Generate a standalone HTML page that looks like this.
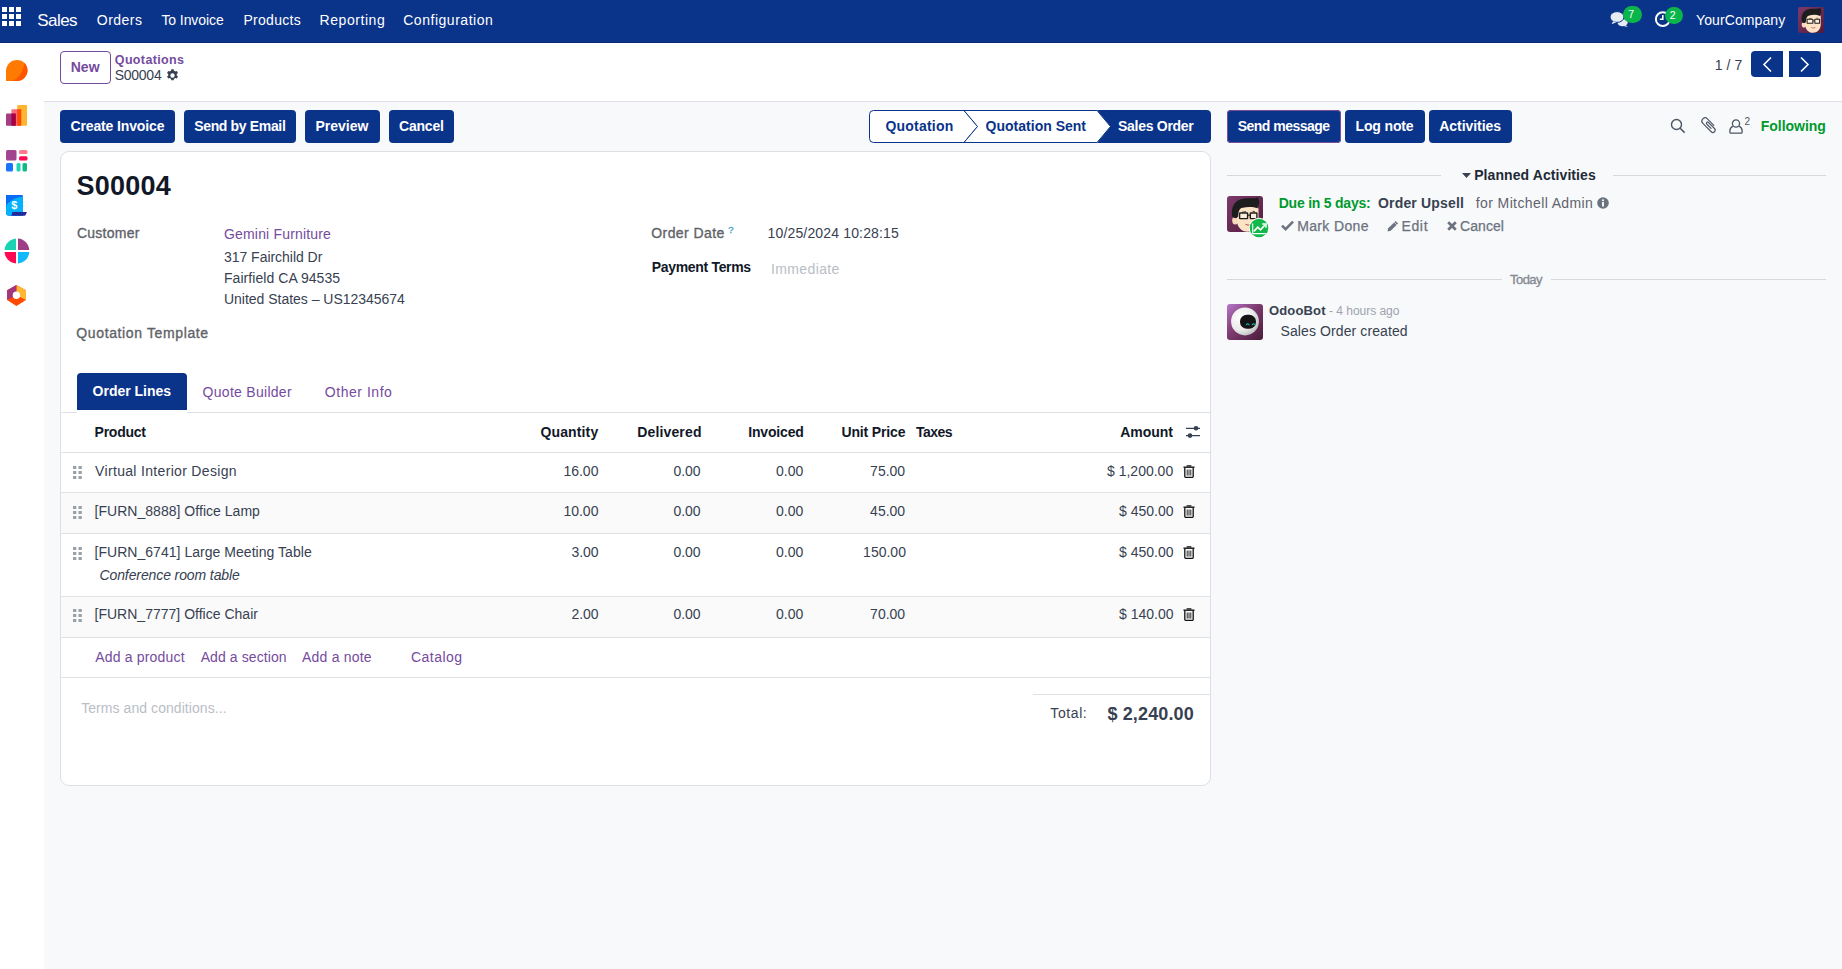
<!DOCTYPE html>
<html><head><meta charset="utf-8"><title>S00004</title>
<style>
*{box-sizing:border-box;margin:0;padding:0}
html,body{width:1842px;height:969px;overflow:hidden;background:#f8f9fa;font-family:"Liberation Sans",sans-serif}
.b{position:absolute}
.t{position:absolute;white-space:nowrap;line-height:1}
svg{overflow:visible}
</style></head><body>
<div class="b" style="left:0px;top:0px;width:1842px;height:43px;background:#0a338a"></div>
<div class="b" style="left:0px;top:42px;width:1842px;height:1px;background:#062a74"></div>
<div class="b" style="left:0px;top:43px;width:44px;height:926px;background:#fff"></div>
<div class="b" style="left:44px;top:43px;width:1798px;height:58px;background:#fff"></div>
<div class="b" style="left:44px;top:101px;width:1798px;height:1px;background:#dfe1e5"></div>
<svg class="b" style="left:2px;top:7px" width="19" height="19" viewBox="0 0 19 19" fill="#fff">
<rect x="0" y="0" width="5" height="5"/><rect x="7" y="0" width="5" height="5"/><rect x="14" y="0" width="5" height="5"/>
<rect x="0" y="7" width="5" height="5"/><rect x="7" y="7" width="5" height="5"/><rect x="14" y="7" width="5" height="5"/>
<rect x="0" y="14" width="5" height="5"/><rect x="7" y="14" width="5" height="5"/><rect x="14" y="14" width="5" height="5"/></svg>
<svg class="b" style="left:1609px;top:10px" width="20" height="18" viewBox="0 0 20 18">
<ellipse cx="13.6" cy="12.6" rx="5.1" ry="3.7" fill="#e6eaf3"/><path d="M16.5 15L18.8 17 15.2 16.2z" fill="#e6eaf3"/>
<ellipse cx="8" cy="7" rx="7" ry="5.4" fill="#e6eaf3" stroke="#0a338a" stroke-width="1"/>
<path d="M4 11.2L2.6 14.2 7.3 12.2z" fill="#e6eaf3"/></svg>
<div class="b" style="left:1623px;top:6px;width:18.5px;height:17px;border-radius:9px;background:#0ab54b"></div>
<svg class="b" style="left:1654px;top:10px" width="18" height="18" viewBox="0 0 18 18">
<circle cx="8.8" cy="9.2" r="6.9" fill="none" stroke="#fff" stroke-width="2"/>
<path d="M8.8 5v4.3h-3" fill="none" stroke="#fff" stroke-width="1.6"/></svg>
<div class="b" style="left:1665px;top:7px;width:17.5px;height:16.5px;border-radius:9px;background:#0ab54b"></div>
<svg class="b" style="left:1798px;top:7px" width="26" height="26" viewBox="0 0 36 36"><defs><linearGradient id="avg1" x1="0" y1="0" x2="1" y2="1"><stop offset="0" stop-color="#7c3b6a"/><stop offset="1" stop-color="#521a3d"/></linearGradient></defs>
<rect width="36" height="36" rx="3" fill="url(#avg1)"/>
<ellipse cx="8.2" cy="24.5" rx="3" ry="3.9" fill="#fbd9b8"/>
<path d="M10 12C10 8 31 8 31.5 13L31.5 24C31.5 31 26.5 35.8 20.5 35.8C14.5 35.8 10.6 31 10 26Z" fill="#fde3c6"/>
<path d="M5.2 20.5C3.5 10 8.5 3 18 2.4C24.5 2 28.5 3 31 1.2L32 4.5C32.5 7.5 31.5 10 30.2 12.3C26 10.3 20 10.6 14.5 12C12.2 13 11.2 16 11.2 20.5L9.2 22.3C7.2 22 5.8 21.7 5.2 20.5Z" fill="#1d1d1d"/>
<path d="M15 16.3L19 15.6M25.5 15.3L28 15.7" stroke="#333" stroke-width="0.9"/>
<rect x="12.6" y="17" width="8" height="5.6" rx="0.6" fill="#fff" fill-opacity="0.35" stroke="#1e1e1e" stroke-width="1.4"/>
<rect x="23.3" y="17" width="6.6" height="5.6" rx="0.6" fill="#fff" fill-opacity="0.35" stroke="#1e1e1e" stroke-width="1.4"/>
<path d="M20.6 19.2H23.3" stroke="#1e1e1e" stroke-width="1.1"/>
<path d="M18.5 28.3Q21 30.2 24 28.2" stroke="#b24a4a" stroke-width="1" fill="none"/></svg>
<svg class="b" style="left:5px;top:59px" width="23" height="23" viewBox="0 0 23 23">
<path d="M1 12C1 5.9 5.9 1 12 1s10.5 4.9 10.5 10.5S17.6 22 12 22H1z" fill="#ff7a00"/>
<path d="M19.3 3.7C21.3 5.6 22.5 8.4 22.5 11.5 22.5 17.3 17.6 22 12 22H6.5C13 20.5 18.5 13 19.3 3.7z" fill="#ff5500"/></svg>
<svg class="b" style="left:6px;top:105px" width="22" height="21" viewBox="0 0 22 21">
<rect x="11.2" y="0" width="9.8" height="20.7" rx="1" fill="#ffb52e"/>
<rect x="5.4" y="4.3" width="9.8" height="16.4" rx="1" fill="#ff6b80"/>
<rect x="11.2" y="4.3" width="4" height="16.4" fill="#ff4a00"/>
<rect x="0" y="8.6" width="9.8" height="12.1" rx="1" fill="#a23d86"/>
<rect x="5.4" y="8.6" width="4.4" height="12.1" fill="#a6003e"/></svg>
<svg class="b" style="left:6px;top:150px" width="22" height="22" viewBox="0 0 22 22">
<rect x="0" y="0" width="10.5" height="10.5" rx="1.5" fill="#a2458e"/>
<rect x="13" y="0" width="8.5" height="4" rx="1.5" fill="#ff7a8a"/>
<rect x="13" y="6.3" width="8.5" height="4.2" rx="1.5" fill="#ff0a50"/>
<rect x="0" y="13" width="7" height="8.5" rx="1.5" fill="#1a74ff"/>
<rect x="10.5" y="13" width="4" height="8.5" rx="1.5" fill="#1fd5b5"/>
<rect x="16.5" y="13" width="4.5" height="8.5" rx="1.5" fill="#12b886"/></svg>
<svg class="b" style="left:6px;top:195px" width="21" height="21" viewBox="0 0 21 21">
<path d="M0 0H16.3L17 0.7V20.7H3.2Q0 20.7 0 17.5Z" fill="#0a6cf5"/>
<path d="M0 11C3 6 9 2.5 17 1.6V20.7H3.2Q0 20.7 0 17.5Z" fill="#03b2fd"/>
<path d="M6.3 17.1H20.9L19.6 20Q19.3 20.7 18.5 20.7H5.2Q6.3 19.2 6.3 17.1Z" fill="#26289b"/>
<text x="8.4" y="13.9" font-family="Liberation Sans" font-weight="bold" font-size="11" fill="#fff" text-anchor="middle">$</text></svg>
<svg class="b" style="left:3.5px;top:238px" width="26" height="26" viewBox="0 0 26 26">
<path d="M12 12H0.5C0.9 6 5.7 1.2 12 0.6z" fill="#1bd3b3"/>
<path d="M14 12V0.6C20 1 24.8 5.8 25.3 12z" fill="#9e3d87"/>
<path d="M12 14V25.4C5.9 25 1 20.2 0.5 14z" fill="#ff0a50"/>
<path d="M14 14H25.3C24.9 20.1 20.1 25 14 25.4z" fill="#10b9f7"/></svg>
<svg class="b" style="left:6px;top:284px" width="21" height="23" viewBox="0 0 21 23">
<path d="M10.4 1L20 6.2V16.1L10.4 21.9 1.1 16.1V6.2z" fill="#ff4a00"/>
<path d="M10.4 1L20 6.2V16.1L10.4 11.3z" fill="#ffb734"/>
<path d="M10.4 1L1.1 6.2V16.1L10.4 11.3z" fill="#a2367f"/>
<circle cx="10.4" cy="11.3" r="3.7" fill="#fff"/></svg>
<div class="b" style="left:60px;top:51px;width:51px;height:33px;border:1px solid #754b9e;border-radius:4px;background:#fff"></div>
<svg class="b" style="left:165.5px;top:68.5px" width="13" height="13" viewBox="0 0 16 16">
<path fill="#374151" d="M9.4 0.3l0.4 2a6 6 0 0 1 1.6 0.9l1.9-0.7 1.4 2.4-1.5 1.3a6 6 0 0 1 0 1.8l1.5 1.3-1.4 2.4-1.9-0.7a6 6 0 0 1-1.6 0.9l-0.4 2H6.6l-0.4-2a6 6 0 0 1-1.6-0.9l-1.9 0.7-1.4-2.4 1.5-1.3a6 6 0 0 1 0-1.8L1.3 4.9l1.4-2.4 1.9 0.7a6 6 0 0 1 1.6-0.9l0.4-2zM8 5.3A2.7 2.7 0 1 0 8 10.7 2.7 2.7 0 1 0 8 5.3z"/></svg>
<div class="b" style="left:1751px;top:51px;width:32px;height:26px;background:#0a338a;border-radius:4px 0 0 4px"></div>
<div class="b" style="left:1789px;top:51px;width:32px;height:26px;background:#0a338a;border-radius:0 4px 4px 0"></div>
<svg class="b" style="left:1751px;top:51px" width="70" height="26" viewBox="0 0 70 26">
<path d="M20 6.5L13 13.5 20 20.5" fill="none" stroke="#fff" stroke-width="1.6"/>
<path d="M50 6.5L57 13.5 50 20.5" fill="none" stroke="#fff" stroke-width="1.6"/></svg>
<div class="b" style="left:60px;top:110px;width:115px;height:33px;background:#0a338a;border-radius:4px"></div>
<div class="b" style="left:184px;top:110px;width:112px;height:33px;background:#0a338a;border-radius:4px"></div>
<div class="b" style="left:305px;top:110px;width:75px;height:33px;background:#0a338a;border-radius:4px"></div>
<div class="b" style="left:389px;top:110px;width:65px;height:33px;background:#0a338a;border-radius:4px"></div>
<svg class="b" style="left:869px;top:110px" width="342" height="33" viewBox="0 0 342 33">
<path d="M4.5 0.5H95L108.5 16.5 95 32.5H4.5Q0.5 32.5 0.5 28.5V4.5Q0.5 0.5 4.5 0.5z" fill="#fff" stroke="#0a338a" stroke-width="1"/>
<path d="M95 0.5H228L241.5 16.5 228 32.5H95L108.5 16.5z" fill="#fff" stroke="#0a338a" stroke-width="1"/>
<path d="M228 0H337.5Q342 0 342 4.5V28.5Q342 33 337.5 33H228L241.5 16.5z" fill="#0a338a"/>
</svg>
<div class="b" style="left:60px;top:151px;width:1151px;height:635px;background:#fff;border:1px solid #dcdfe3;border-radius:9px"></div>
<div class="b" style="left:61px;top:412px;width:16px;height:1px;background:#dee2e6"></div>
<div class="b" style="left:187px;top:412px;width:1023px;height:1px;background:#dee2e6"></div>
<div class="b" style="left:77px;top:373px;width:110px;height:37px;background:#0a338a;border-radius:4px 4px 0 0"></div>
<svg class="b" style="left:1185px;top:425px" width="16" height="14" viewBox="0 0 16 14">
<path d="M1 3.3H15M1 10.6H15" stroke="#374151" stroke-width="1.3"/>
<circle cx="11" cy="3.3" r="2.3" fill="#374151"/><circle cx="5" cy="10.6" r="2.3" fill="#374151"/></svg>
<div class="b" style="left:61px;top:452px;width:1149px;height:1px;background:#dee2e6"></div>
<div class="b" style="left:61px;top:492px;width:1149px;height:1px;background:#dee2e6"></div>
<svg class="b" style="left:73px;top:466px" width="9" height="13" viewBox="0 0 9 13" fill="#9aa0a8"><rect x="0" y="0" width="3.3" height="3"/><rect x="5.5" y="0" width="3.3" height="3"/><rect x="0" y="5" width="3.3" height="3"/><rect x="5.5" y="5" width="3.3" height="3"/><rect x="0" y="10" width="3.3" height="3"/><rect x="5.5" y="10" width="3.3" height="3"/></svg>
<svg class="b" style="left:1182.5px;top:464.5px" width="12" height="13" viewBox="0 0 12 13">
<path d="M4.2 1.6V0.9H7.8V1.6" fill="none" stroke="#111" stroke-width="1.2"/>
<path d="M0.5 2.2H11.5" stroke="#111" stroke-width="1.4"/>
<path d="M1.8 2.8V11.6Q1.8 12.4 2.6 12.4H9.4Q10.2 12.4 10.2 11.6V2.8" fill="none" stroke="#111" stroke-width="1.3"/>
<path d="M4.2 4.5V10.6M6 4.5V10.6M7.8 4.5V10.6" stroke="#111" stroke-width="0.9"/></svg>
<div class="b" style="left:61px;top:493px;width:1149px;height:40px;background:#fafafa"></div>
<div class="b" style="left:61px;top:533px;width:1149px;height:1px;background:#dee2e6"></div>
<svg class="b" style="left:73px;top:506px" width="9" height="13" viewBox="0 0 9 13" fill="#9aa0a8"><rect x="0" y="0" width="3.3" height="3"/><rect x="5.5" y="0" width="3.3" height="3"/><rect x="0" y="5" width="3.3" height="3"/><rect x="5.5" y="5" width="3.3" height="3"/><rect x="0" y="10" width="3.3" height="3"/><rect x="5.5" y="10" width="3.3" height="3"/></svg>
<svg class="b" style="left:1182.5px;top:504.5px" width="12" height="13" viewBox="0 0 12 13">
<path d="M4.2 1.6V0.9H7.8V1.6" fill="none" stroke="#111" stroke-width="1.2"/>
<path d="M0.5 2.2H11.5" stroke="#111" stroke-width="1.4"/>
<path d="M1.8 2.8V11.6Q1.8 12.4 2.6 12.4H9.4Q10.2 12.4 10.2 11.6V2.8" fill="none" stroke="#111" stroke-width="1.3"/>
<path d="M4.2 4.5V10.6M6 4.5V10.6M7.8 4.5V10.6" stroke="#111" stroke-width="0.9"/></svg>
<div class="b" style="left:61px;top:596px;width:1149px;height:1px;background:#dee2e6"></div>
<svg class="b" style="left:73px;top:547px" width="9" height="13" viewBox="0 0 9 13" fill="#9aa0a8"><rect x="0" y="0" width="3.3" height="3"/><rect x="5.5" y="0" width="3.3" height="3"/><rect x="0" y="5" width="3.3" height="3"/><rect x="5.5" y="5" width="3.3" height="3"/><rect x="0" y="10" width="3.3" height="3"/><rect x="5.5" y="10" width="3.3" height="3"/></svg>
<svg class="b" style="left:1182.5px;top:545.5px" width="12" height="13" viewBox="0 0 12 13">
<path d="M4.2 1.6V0.9H7.8V1.6" fill="none" stroke="#111" stroke-width="1.2"/>
<path d="M0.5 2.2H11.5" stroke="#111" stroke-width="1.4"/>
<path d="M1.8 2.8V11.6Q1.8 12.4 2.6 12.4H9.4Q10.2 12.4 10.2 11.6V2.8" fill="none" stroke="#111" stroke-width="1.3"/>
<path d="M4.2 4.5V10.6M6 4.5V10.6M7.8 4.5V10.6" stroke="#111" stroke-width="0.9"/></svg>
<div class="b" style="left:61px;top:597px;width:1149px;height:40px;background:#fafafa"></div>
<div class="b" style="left:61px;top:637px;width:1149px;height:1px;background:#dee2e6"></div>
<svg class="b" style="left:73px;top:609px" width="9" height="13" viewBox="0 0 9 13" fill="#9aa0a8"><rect x="0" y="0" width="3.3" height="3"/><rect x="5.5" y="0" width="3.3" height="3"/><rect x="0" y="5" width="3.3" height="3"/><rect x="5.5" y="5" width="3.3" height="3"/><rect x="0" y="10" width="3.3" height="3"/><rect x="5.5" y="10" width="3.3" height="3"/></svg>
<svg class="b" style="left:1182.5px;top:607.5px" width="12" height="13" viewBox="0 0 12 13">
<path d="M4.2 1.6V0.9H7.8V1.6" fill="none" stroke="#111" stroke-width="1.2"/>
<path d="M0.5 2.2H11.5" stroke="#111" stroke-width="1.4"/>
<path d="M1.8 2.8V11.6Q1.8 12.4 2.6 12.4H9.4Q10.2 12.4 10.2 11.6V2.8" fill="none" stroke="#111" stroke-width="1.3"/>
<path d="M4.2 4.5V10.6M6 4.5V10.6M7.8 4.5V10.6" stroke="#111" stroke-width="0.9"/></svg>
<div class="b" style="left:61px;top:677px;width:1149px;height:1px;background:#dee2e6"></div>
<div class="b" style="left:1033px;top:694px;width:177px;height:1px;background:#dee2e6"></div>
<div class="b" style="left:1227px;top:110px;width:114px;height:33px;background:#0a338a;border-radius:4px;box-shadow:inset 0 0 0 1px #7a4f9a"></div>
<div class="b" style="left:1345px;top:110px;width:80px;height:33px;background:#0a338a;border-radius:4px"></div>
<div class="b" style="left:1429px;top:110px;width:83px;height:33px;background:#0a338a;border-radius:4px"></div>
<svg class="b" style="left:1670px;top:118px" width="16" height="16" viewBox="0 0 16 16">
<circle cx="6.5" cy="6.5" r="5" fill="none" stroke="#4b5563" stroke-width="1.4"/><path d="M10.2 10.2L14.6 14.6" stroke="#4b5563" stroke-width="1.5"/></svg>
<svg class="b" style="left:1699px;top:114.8px" width="20" height="20" viewBox="0 0 20 20">
<g transform="translate(10 10) rotate(-45)"><path d="M3.2 3.6V-5.5A3.2 3.2 0 0 0 -3.2 -5.5V6.35A2.3 2.3 0 0 0 1.4 6.35V-2.3A1.15 1.15 0 0 0 -0.9 -2.3V3.8" fill="none" stroke="#4b5563" stroke-width="1.15" stroke-linecap="round"/></g></svg>
<svg class="b" style="left:1728.5px;top:118.5px" width="14" height="15" viewBox="0 0 14 15">
<circle cx="7" cy="4.5" r="3.6" fill="none" stroke="#4b5563" stroke-width="1.3"/>
<path d="M3.8 7.3C2 8 0.9 9.8 0.9 11.8V13.2Q0.9 14.1 1.8 14.1H12.2Q13.1 14.1 13.1 13.2V11.8C13.1 9.8 12 8 10.2 7.3" fill="none" stroke="#4b5563" stroke-width="1.3"/></svg>
<div class="b" style="left:1227px;top:175px;width:214px;height:1px;background:#d5d8dc"></div>
<div class="b" style="left:1613px;top:175px;width:213px;height:1px;background:#d5d8dc"></div>
<svg class="b" style="left:1461.5px;top:172.5px" width="9" height="5" viewBox="0 0 9 5"><path d="M0 0H9L4.5 5z" fill="#374151"/></svg>
<svg class="b" style="left:1227px;top:196px" width="36" height="36" viewBox="0 0 36 36"><defs><linearGradient id="avg2" x1="0" y1="0" x2="1" y2="1"><stop offset="0" stop-color="#7c3b6a"/><stop offset="1" stop-color="#521a3d"/></linearGradient></defs>
<rect width="36" height="36" rx="3" fill="url(#avg2)"/>
<ellipse cx="8.2" cy="24.5" rx="3" ry="3.9" fill="#fbd9b8"/>
<path d="M10 12C10 8 31 8 31.5 13L31.5 24C31.5 31 26.5 35.8 20.5 35.8C14.5 35.8 10.6 31 10 26Z" fill="#fde3c6"/>
<path d="M5.2 20.5C3.5 10 8.5 3 18 2.4C24.5 2 28.5 3 31 1.2L32 4.5C32.5 7.5 31.5 10 30.2 12.3C26 10.3 20 10.6 14.5 12C12.2 13 11.2 16 11.2 20.5L9.2 22.3C7.2 22 5.8 21.7 5.2 20.5Z" fill="#1d1d1d"/>
<path d="M15 16.3L19 15.6M25.5 15.3L28 15.7" stroke="#333" stroke-width="0.9"/>
<rect x="12.6" y="17" width="8" height="5.6" rx="0.6" fill="#fff" fill-opacity="0.35" stroke="#1e1e1e" stroke-width="1.4"/>
<rect x="23.3" y="17" width="6.6" height="5.6" rx="0.6" fill="#fff" fill-opacity="0.35" stroke="#1e1e1e" stroke-width="1.4"/>
<path d="M20.6 19.2H23.3" stroke="#1e1e1e" stroke-width="1.1"/>
<path d="M18.5 28.3Q21 30.2 24 28.2" stroke="#b24a4a" stroke-width="1" fill="none"/></svg>
<svg class="b" style="left:1248px;top:216.6px" width="22" height="22" viewBox="-11 -11 22 22">
<circle cx="0" cy="0" r="10.2" fill="#fff"/><circle cx="0" cy="0" r="9.3" fill="#12b84a"/>
<path d="M-6.3 -4.6V5.6H7.4" fill="none" stroke="#fff" stroke-width="1.1"/>
<path d="M-5.2 3.4L-1.2 -0.8 1.5 1.8 6 -3" fill="none" stroke="#fff" stroke-width="1.7"/>
<path d="M3.2 -4H7V-0.2" fill="none" stroke="#fff" stroke-width="1.5"/></svg>
<svg class="b" style="left:1597px;top:197px" width="12" height="12" viewBox="0 0 12 12">
<circle cx="6" cy="6" r="5.8" fill="#6b7280"/><rect x="5.1" y="5" width="1.8" height="4.5" fill="#fff"/><circle cx="6" cy="3.2" r="1" fill="#fff"/></svg>
<svg class="b" style="left:1281px;top:220px" width="13" height="11" viewBox="0 0 13 11"><path d="M1 5.6L4.6 9.1 12 1.7" fill="none" stroke="#6b7280" stroke-width="2.6"/></svg>
<svg class="b" style="left:1386.5px;top:219.5px" width="12" height="12" viewBox="0 0 12 12"><path d="M0.5 11.5L1.2 8.3 8.6 0.9 11.1 3.4 3.7 10.8z" fill="#6b7280"/><path d="M7.2 2.3L9.7 4.8" stroke="#f8f9fa" stroke-width="0.8"/></svg>
<svg class="b" style="left:1446.5px;top:221px" width="10" height="10" viewBox="0 0 10 10"><path d="M1.2 1.2L8.8 8.8M8.8 1.2L1.2 8.8" stroke="#6b7280" stroke-width="2.7"/></svg>
<div class="b" style="left:1227px;top:279px;width:275px;height:1px;background:#d5d8dc"></div>
<div class="b" style="left:1551px;top:279px;width:275px;height:1px;background:#d5d8dc"></div>
<svg class="b" style="left:1227px;top:304px" width="36" height="36" viewBox="0 0 36 36">
<defs><linearGradient id="og" x1="0" y1="0" x2="1" y2="1"><stop offset="0" stop-color="#b877cc"/><stop offset="0.45" stop-color="#7e3a70"/><stop offset="1" stop-color="#4a1c3a"/></linearGradient>
<radialGradient id="os" cx="0.35" cy="0.35" r="0.75"><stop offset="0" stop-color="#ffffff"/><stop offset="0.6" stop-color="#ececec"/><stop offset="1" stop-color="#b5b8b8"/></radialGradient></defs>
<rect width="36" height="36" rx="3" fill="url(#og)"/>
<ellipse cx="18" cy="17.4" rx="13.9" ry="14" fill="url(#os)"/>
<rect x="13" y="10.7" width="16" height="14.1" rx="6.8" fill="#141414"/>
<path d="M19.4 21.3a1.35 1.35 0 0 1 2.7 0M25.2 21.3a1.35 1.35 0 0 1 2.7 0" stroke="#10b3aa" stroke-width="1.2" fill="none"/></svg>
<div class="t" style="left:37.30px;top:12.00px;font-size:17px;color:#ffffff;letter-spacing:-0.575px;">Sales</div>
<div class="t" style="left:96.80px;top:13.00px;font-size:14px;color:#ffffff;letter-spacing:0.480px;">Orders</div>
<div class="t" style="left:161.40px;top:13.00px;font-size:14px;color:#ffffff;letter-spacing:-0.078px;">To Invoice</div>
<div class="t" style="left:243.40px;top:13.00px;font-size:14px;color:#ffffff;letter-spacing:0.300px;">Products</div>
<div class="t" style="left:319.60px;top:13.00px;font-size:14px;color:#ffffff;letter-spacing:0.550px;">Reporting</div>
<div class="t" style="left:403.20px;top:13.00px;font-size:14px;color:#ffffff;letter-spacing:0.533px;">Configuration</div>
<div class="t" style="left:1696.00px;top:13.00px;font-size:14px;color:#ffffff;letter-spacing:0.100px;">YourCompany</div>
<div class="t" style="left:1628.30px;top:9.00px;font-size:10.5px;color:#fff;">7</div>
<div class="t" style="left:1669.80px;top:10.00px;font-size:10.5px;color:#fff;">2</div>
<div class="t" style="left:70.70px;top:60.00px;font-size:14px;color:#754b9e;font-weight:700;letter-spacing:0.050px;">New</div>
<div class="t" style="left:114.80px;top:54.00px;font-size:12.5px;color:#754b9e;font-weight:700;letter-spacing:0.356px;">Quotations</div>
<div class="t" style="left:114.80px;top:68.00px;font-size:14px;color:#374151;letter-spacing:-0.280px;">S00004</div>
<div class="t" style="left:1714.80px;top:58.00px;font-size:14px;color:#374151;letter-spacing:0.050px;">1 / 7</div>
<div class="t" style="left:70.50px;top:119.00px;font-size:14px;color:#fff;font-weight:700;letter-spacing:-0.138px;">Create Invoice</div>
<div class="t" style="left:194.20px;top:119.00px;font-size:14px;color:#fff;font-weight:700;letter-spacing:-0.342px;">Send by Email</div>
<div class="t" style="left:315.40px;top:119.00px;font-size:14px;color:#fff;font-weight:700;letter-spacing:0.017px;">Preview</div>
<div class="t" style="left:399.00px;top:119.00px;font-size:14px;color:#fff;font-weight:700;letter-spacing:-0.200px;">Cancel</div>
<div class="t" style="left:885.40px;top:119.00px;font-size:14px;color:#0a338a;font-weight:700;letter-spacing:0.225px;">Quotation</div>
<div class="t" style="left:985.60px;top:119.00px;font-size:14px;color:#0a338a;font-weight:700;letter-spacing:0.008px;">Quotation Sent</div>
<div class="t" style="left:1118.00px;top:119.00px;font-size:14px;color:#fff;font-weight:700;letter-spacing:-0.280px;">Sales Order</div>
<div class="t" style="left:76.40px;top:173.00px;font-size:27px;color:#111827;font-weight:700;letter-spacing:0.260px;">S00004</div>
<div class="t" style="left:76.90px;top:226.00px;font-size:14px;color:#5f6369;letter-spacing:0.271px;-webkit-text-stroke:0.35px #5f6369;">Customer</div>
<div class="t" style="left:224.00px;top:227.00px;font-size:14px;color:#754b9e;letter-spacing:0.173px;">Gemini Furniture</div>
<div class="t" style="left:224.00px;top:250.00px;font-size:14px;color:#374151;letter-spacing:-0.033px;">317 Fairchild Dr</div>
<div class="t" style="left:224.00px;top:271.00px;font-size:14px;color:#374151;letter-spacing:0.053px;">Fairfield CA 94535</div>
<div class="t" style="left:224.00px;top:292.00px;font-size:14px;color:#374151;letter-spacing:-0.020px;">United States – US12345674</div>
<div class="t" style="left:76.30px;top:326.00px;font-size:14px;color:#5f6369;letter-spacing:0.629px;-webkit-text-stroke:0.35px #5f6369;">Quotation Template</div>
<div class="t" style="left:651.30px;top:226.00px;font-size:14px;color:#5f6369;letter-spacing:0.411px;-webkit-text-stroke:0.35px #5f6369;">Order Date</div>
<div class="t" style="left:728.30px;top:225.00px;font-size:9.5px;color:#3f9fc6;-webkit-text-stroke:0.3px #3f9fc6;">?</div>
<div class="t" style="left:767.50px;top:226.00px;font-size:14px;color:#374151;letter-spacing:0.161px;">10/25/2024 10:28:15</div>
<div class="t" style="left:651.80px;top:260.00px;font-size:14px;color:#111827;font-weight:700;letter-spacing:-0.325px;">Payment Terms</div>
<div class="t" style="left:771.00px;top:262.00px;font-size:14px;color:#b9bec6;letter-spacing:0.375px;">Immediate</div>
<div class="t" style="left:92.60px;top:384.00px;font-size:14px;color:#fff;font-weight:700;letter-spacing:-0.020px;">Order Lines</div>
<div class="t" style="left:202.60px;top:385.00px;font-size:14px;color:#754b9e;letter-spacing:0.283px;">Quote Builder</div>
<div class="t" style="left:324.80px;top:385.00px;font-size:14px;color:#754b9e;letter-spacing:0.533px;">Other Info</div>
<div class="t" style="left:94.60px;top:425.00px;font-size:14px;color:#111827;font-weight:700;letter-spacing:-0.267px;">Product</div>
<div class="t" style="left:540.50px;top:425.00px;font-size:14px;color:#111827;font-weight:700;letter-spacing:0.129px;">Quantity</div>
<div class="t" style="left:637.30px;top:425.00px;font-size:14px;color:#111827;font-weight:700;letter-spacing:0.138px;">Delivered</div>
<div class="t" style="left:748.30px;top:425.00px;font-size:14px;color:#111827;font-weight:700;letter-spacing:-0.186px;">Invoiced</div>
<div class="t" style="left:841.50px;top:425.00px;font-size:14px;color:#111827;font-weight:700;letter-spacing:-0.156px;">Unit Price</div>
<div class="t" style="left:916.00px;top:425.00px;font-size:14px;color:#111827;font-weight:700;letter-spacing:-0.525px;">Taxes</div>
<div class="t" style="left:1120.30px;top:425.00px;font-size:14px;color:#111827;font-weight:700;letter-spacing:-0.060px;">Amount</div>
<div class="t" style="left:95.10px;top:464.00px;font-size:14px;color:#374151;letter-spacing:0.323px;">Virtual Interior Design</div>
<div class="t" style="left:563.40px;top:464.00px;font-size:14px;color:#374151;">16.00</div>
<div class="t" style="left:673.40px;top:464.00px;font-size:14px;color:#374151;">0.00</div>
<div class="t" style="left:776.00px;top:464.00px;font-size:14px;color:#374151;">0.00</div>
<div class="t" style="left:870.10px;top:464.00px;font-size:14px;color:#374151;">75.00</div>
<div class="t" style="left:1107.00px;top:464.00px;font-size:14px;color:#374151;">$ 1,200.00</div>
<div class="t" style="left:94.50px;top:504.00px;font-size:14px;color:#374151;letter-spacing:0.032px;">[FURN_8888] Office Lamp</div>
<div class="t" style="left:563.40px;top:504.00px;font-size:14px;color:#374151;">10.00</div>
<div class="t" style="left:673.40px;top:504.00px;font-size:14px;color:#374151;">0.00</div>
<div class="t" style="left:776.00px;top:504.00px;font-size:14px;color:#374151;">0.00</div>
<div class="t" style="left:870.10px;top:504.00px;font-size:14px;color:#374151;">45.00</div>
<div class="t" style="left:1119.00px;top:504.00px;font-size:14px;color:#374151;">$ 450.00</div>
<div class="t" style="left:94.50px;top:545.00px;font-size:14px;color:#374151;letter-spacing:0.037px;">[FURN_6741] Large Meeting Table</div>
<div class="t" style="left:571.40px;top:545.00px;font-size:14px;color:#374151;">3.00</div>
<div class="t" style="left:673.40px;top:545.00px;font-size:14px;color:#374151;">0.00</div>
<div class="t" style="left:776.00px;top:545.00px;font-size:14px;color:#374151;">0.00</div>
<div class="t" style="left:863.10px;top:545.00px;font-size:14px;color:#374151;">150.00</div>
<div class="t" style="left:1119.00px;top:545.00px;font-size:14px;color:#374151;">$ 450.00</div>
<div class="t" style="left:94.50px;top:607.00px;font-size:14px;color:#374151;letter-spacing:0.013px;">[FURN_7777] Office Chair</div>
<div class="t" style="left:571.40px;top:607.00px;font-size:14px;color:#374151;">2.00</div>
<div class="t" style="left:673.40px;top:607.00px;font-size:14px;color:#374151;">0.00</div>
<div class="t" style="left:776.00px;top:607.00px;font-size:14px;color:#374151;">0.00</div>
<div class="t" style="left:870.10px;top:607.00px;font-size:14px;color:#374151;">70.00</div>
<div class="t" style="left:1119.00px;top:607.00px;font-size:14px;color:#374151;">$ 140.00</div>
<div class="t" style="left:99.50px;top:568.00px;font-size:14px;color:#374151;font-style:italic;letter-spacing:-0.105px;">Conference room table</div>
<div class="t" style="left:95.30px;top:650.00px;font-size:14px;color:#754b9e;letter-spacing:0.175px;">Add a product</div>
<div class="t" style="left:200.70px;top:650.00px;font-size:14px;color:#754b9e;letter-spacing:0.092px;">Add a section</div>
<div class="t" style="left:302.10px;top:650.00px;font-size:14px;color:#754b9e;letter-spacing:0.189px;">Add a note</div>
<div class="t" style="left:411.00px;top:650.00px;font-size:14px;color:#754b9e;letter-spacing:0.467px;">Catalog</div>
<div class="t" style="left:81.20px;top:701.00px;font-size:14px;color:#b9bec6;letter-spacing:0.064px;">Terms and conditions...</div>
<div class="t" style="left:1050.30px;top:706.00px;font-size:14px;color:#374151;letter-spacing:0.600px;">Total:</div>
<div class="t" style="left:1107.40px;top:705.00px;font-size:18px;color:#374151;font-weight:700;letter-spacing:0.144px;">$ 2,240.00</div>
<div class="t" style="left:1237.70px;top:119.00px;font-size:14px;color:#fff;font-weight:700;letter-spacing:-0.518px;">Send message</div>
<div class="t" style="left:1355.50px;top:119.00px;font-size:14px;color:#fff;font-weight:700;letter-spacing:-0.143px;">Log note</div>
<div class="t" style="left:1439.30px;top:119.00px;font-size:14px;color:#fff;font-weight:700;letter-spacing:-0.056px;">Activities</div>
<div class="t" style="left:1744.50px;top:117.00px;font-size:10px;color:#4b5563;">2</div>
<div class="t" style="left:1760.80px;top:119.00px;font-size:14px;color:#00992e;font-weight:700;letter-spacing:-0.037px;">Following</div>
<div class="t" style="left:1474.20px;top:168.00px;font-size:14px;color:#1f2937;font-weight:700;letter-spacing:0.088px;">Planned Activities</div>
<div class="t" style="left:1278.70px;top:196.00px;font-size:14px;color:#00992e;font-weight:700;letter-spacing:-0.223px;">Due in 5 days:</div>
<div class="t" style="left:1378.00px;top:196.00px;font-size:14px;color:#374151;font-weight:700;letter-spacing:0.164px;">Order Upsell</div>
<div class="t" style="left:1475.80px;top:196.00px;font-size:14px;color:#5f636f;letter-spacing:0.388px;">for Mitchell Admin</div>
<div class="t" style="left:1297.20px;top:219.00px;font-size:14px;color:#6b7280;letter-spacing:0.350px;-webkit-text-stroke:0.25px #6b7280;">Mark Done</div>
<div class="t" style="left:1401.40px;top:219.00px;font-size:14px;color:#6b7280;letter-spacing:0.667px;-webkit-text-stroke:0.25px #6b7280;">Edit</div>
<div class="t" style="left:1460.00px;top:219.00px;font-size:14px;color:#6b7280;letter-spacing:0.080px;-webkit-text-stroke:0.25px #6b7280;">Cancel</div>
<div class="t" style="left:1510.00px;top:273.00px;font-size:13px;color:#858a93;letter-spacing:-0.550px;-webkit-text-stroke:0.35px #858a93;">Today</div>
<div class="t" style="left:1269.00px;top:304.00px;font-size:13px;color:#374151;font-weight:700;letter-spacing:0.150px;">OdooBot</div>
<div class="t" style="left:1329.10px;top:305.00px;font-size:12px;color:#9ca3af;letter-spacing:-0.033px;">- 4 hours ago</div>
<div class="t" style="left:1280.50px;top:324.00px;font-size:14px;color:#374151;letter-spacing:0.100px;">Sales Order created</div>
</body></html>
